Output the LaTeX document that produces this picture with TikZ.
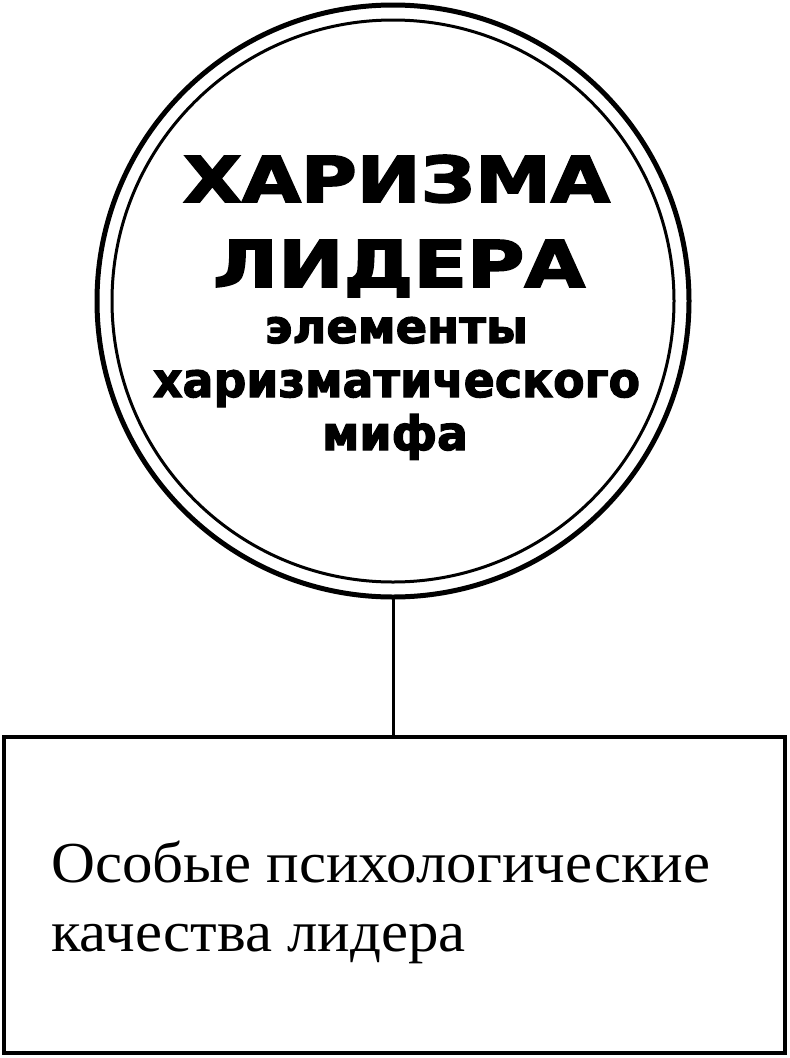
\documentclass[tikz,border=0pt]{standalone}
\usepackage{fontspec}
\setmainfont{Liberation Serif}
\newfontfamily\titlefont[BoldFeatures={FakeBold=2.5}]{DejaVu Sans}
\newfontfamily\bodyfont{Liberation Serif}
\newlength\lineonew
\begin{document}
\settowidth\lineonew{\bodyfont\fontsize{58}{58}\selectfont Особые психологические}%
\pgfmathsetmacro\bsx{659/\lineonew}%
\begin{tikzpicture}[x=1pt,y=-1pt,
  ring/.style={circle,draw,inner sep=0pt,outer sep=0pt},
  title/.style={anchor=base,inner sep=0pt,font=\titlefont\bfseries},
  body/.style={anchor=base west,inner sep=0pt,font=\bodyfont\fontsize{58}{58}\selectfont},
  link/.style={line width=3pt}]
\useasboundingbox[fill=white] (0,0) rectangle (790,1058);
% circles
\node[ring,line width=5pt,minimum size=592pt] (circ) at (393,301) {};
\node[ring,line width=3pt,minimum size=562pt] (circin) at (393,301) {};
% box
\node[draw,line width=4pt,outer sep=0pt,inner sep=0pt,minimum width=781pt,minimum height=316pt] (box) at (394.5,895) {};
% connector
\draw[link] (circ.south) -- (circ.south |- box.north);
% title texts
\node[title] (t1) at (396.5,202) {\resizebox{427pt}{47pt}{ХАРИЗМА}};
\node[title] (t2) at (399,287) {\resizebox{372pt}{47pt}{ЛИДЕРА}};
\node[title] (t3) at (396.5,343) {\resizebox{263pt}{26pt}{элементы}};
\node[title] (t4) at (396.5,397) {\resizebox{487pt}{27pt}{харизматического}};
\node[title] (t5) at (395,450) {\resizebox{146pt}{36pt}{мифа}};
% box text
\node[body] (b1) at (51,882) {\scalebox{\bsx}[1]{Особые психологические}};
\node[body] (b2) at (51,951) {\scalebox{\bsx}[1]{качества лидера}};
\end{tikzpicture}
\end{document}
